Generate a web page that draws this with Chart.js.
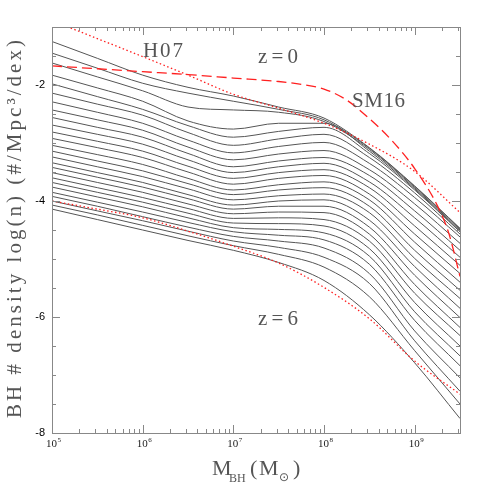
<!DOCTYPE html>
<html>
<head>
<meta charset="utf-8">
<script src="https://cdn.jsdelivr.net/npm/chart.js@4.4.1/dist/chart.umd.min.js"></script>
<style>
  html, body { margin: 0; padding: 0; background: #fff; }
  #wrap { width: 485px; height: 485px; }
</style>
</head>
<body>
<div id="wrap"><canvas id="bhmf" width="485" height="485"></canvas></div>
<script>
const logMass = [5, 5.5, 6, 6.5, 7, 7.5, 8, 8.5, 9, 9.5];

// model mass functions log10(n), z=0 (top) down to z=6 (bottom)
const modelCurves = [
  [-1.25, -1.54, -1.83, -2.04, -2.19, -2.38, -2.57, -3.08, -3.74, -4.47],
  [-1.45, -1.71, -1.97, -2.14, -2.28, -2.42, -2.60, -3.09, -3.75, -4.48],
  [-1.62, -1.86, -2.10, -2.38, -2.43, -2.47, -2.63, -3.11, -3.77, -4.50],
  [-1.83, -2.05, -2.28, -2.62, -2.76, -2.66, -2.66, -3.14, -3.79, -4.52],
  [-1.98, -2.20, -2.42, -2.70, -2.90, -2.80, -2.73, -3.18, -3.81, -4.53],
  [-2.14, -2.33, -2.52, -2.82, -3.04, -2.93, -2.85, -3.25, -3.86, -4.57],
  [-2.29, -2.47, -2.66, -2.95, -3.17, -3.06, -2.99, -3.35, -3.94, -4.62],
  [-2.43, -2.60, -2.78, -3.07, -3.29, -3.19, -3.13, -3.46, -4.05, -4.73],
  [-2.56, -2.73, -2.90, -3.18, -3.41, -3.31, -3.25, -3.56, -4.17, -4.85],
  [-2.69, -2.85, -3.02, -3.29, -3.51, -3.41, -3.35, -3.67, -4.29, -4.97],
  [-2.81, -2.97, -3.14, -3.40, -3.61, -3.51, -3.46, -3.77, -4.43, -5.11],
  [-2.92, -3.08, -3.25, -3.50, -3.71, -3.61, -3.56, -3.88, -4.57, -5.25],
  [-3.04, -3.20, -3.37, -3.61, -3.81, -3.72, -3.67, -3.98, -4.71, -5.40],
  [-3.14, -3.31, -3.48, -3.70, -3.89, -3.81, -3.77, -4.09, -4.85, -5.54],
  [-3.24, -3.41, -3.58, -3.79, -3.98, -3.91, -3.88, -4.20, -4.99, -5.68],
  [-3.34, -3.51, -3.68, -3.89, -4.07, -4.00, -3.98, -4.33, -5.13, -5.85],
  [-3.42, -3.59, -3.76, -3.96, -4.14, -4.09, -4.09, -4.45, -5.28, -6.01],
  [-3.51, -3.68, -3.85, -4.05, -4.22, -4.19, -4.20, -4.57, -5.44, -6.18],
  [-3.60, -3.77, -3.94, -4.13, -4.30, -4.29, -4.32, -4.69, -5.59, -6.32],
  [-3.68, -3.85, -4.02, -4.21, -4.38, -4.39, -4.43, -4.82, -5.75, -6.50],
  [-3.76, -3.93, -4.10, -4.29, -4.46, -4.49, -4.55, -4.95, -5.91, -6.67],
  [-3.85, -4.02, -4.19, -4.37, -4.53, -4.59, -4.67, -5.09, -6.06, -6.84],
  [-3.92, -4.09, -4.27, -4.45, -4.61, -4.69, -4.81, -5.25, -6.24, -7.05],
  [-4.00, -4.17, -4.34, -4.52, -4.69, -4.80, -4.97, -5.42, -6.41, -7.28],
  [-4.07, -4.24, -4.42, -4.60, -4.77, -4.92, -5.14, -5.65, -6.58, -7.50],
  [-4.14, -4.32, -4.50, -4.68, -4.85, -5.06, -5.37, -5.96, -6.79, -7.75]
];

// Hopkins+07 at z=0 and z=6 (red dotted), same mass grid
const h07z0 = [-0.89, -1.20, -1.51, -1.83, -2.16, -2.40, -2.66, -3.02, -3.49, -4.20];
const h07z6 = [-4.00, -4.14, -4.29, -4.52, -4.78, -5.07, -5.49, -6.03, -6.76, -7.33];

// SM16 (red dashed)
const sm16LogMass = [5, 5.5, 6, 6.5, 7, 7.5, 7.75, 8, 8.25, 8.5, 8.75, 9, 9.25, 9.375, 9.5];
const sm16 = [-1.67, -1.72, -1.77, -1.82, -1.88, -1.94, -1.99, -2.07, -2.26, -2.58, -2.96, -3.44, -4.08, -4.55, -5.30];

const yTickValues = [-8, -6, -4, -2];
const xDecades = [5, 6, 7, 8, 9];

const toPoints = (lm, ys) => lm.map((m, i) => ({ x: Math.pow(10, m), y: ys[i] }));

const datasets = [
  { data: toPoints(sm16LogMass, sm16), borderColor: '#ff2020', borderWidth: 1.3, borderDash: [10, 5] },
  { data: toPoints(logMass, h07z0), borderColor: '#ff2020', borderWidth: 1.3, borderDash: [1.5, 2.5] },
  { data: toPoints(logMass, h07z6), borderColor: '#ff2020', borderWidth: 1.3, borderDash: [1.5, 2.5] }
];
modelCurves.forEach(c => {
  datasets.push({ data: toPoints(logMass, c), borderColor: '#555', borderWidth: 1 });
});

// draw text with extra letter spacing so it spans a given width
function spacedText(ctx, text, x, y, width) {
  ctx.letterSpacing = '0px';
  const w = ctx.measureText(text).width;
  const gap = Math.max(0, (width - w) / Math.max(1, text.length - 1));
  ctx.letterSpacing = gap + 'px';
  ctx.fillText(text, x, y);
  ctx.letterSpacing = '0px';
}

const frame = {
  id: 'frame',
  afterDatasetsDraw(chart) {
    const { ctx, chartArea: a, scales: { x, y } } = chart;
    ctx.save();
    ctx.strokeStyle = '#888';
    ctx.lineWidth = 1;
    ctx.strokeRect(Math.round(a.left) + 0.5, Math.round(a.top) + 0.5,
      Math.round(a.right - a.left), Math.round(a.bottom - a.top));

    ctx.beginPath();
    for (const d of xDecades) {
      for (let k = 1; k <= 9; k++) {
        const m = k * Math.pow(10, d);
        if (m > x.max) break;
        const px = Math.round(x.getPixelForValue(m)) + 0.5;
        const len = k === 1 ? 8 : 4;
        ctx.moveTo(px, a.bottom); ctx.lineTo(px, a.bottom - len);
        ctx.moveTo(px, a.top); ctx.lineTo(px, a.top + len);
      }
    }
    for (let v = -8; v <= -1; v += 0.5) {
      const py = Math.round(y.getPixelForValue(v)) + 0.5;
      const len = v % 2 === 0 ? 8 : 4;
      ctx.moveTo(a.left, py); ctx.lineTo(a.left + len, py);
      ctx.moveTo(a.right, py); ctx.lineTo(a.right - len, py);
    }
    ctx.stroke();

    // x tick labels 10^n
    ctx.fillStyle = '#222';
    ctx.textBaseline = 'alphabetic';
    for (const d of xDecades) {
      const px = x.getPixelForValue(Math.pow(10, d));
      ctx.font = '11px "Liberation Serif"';
      ctx.textAlign = 'left';
      const w10 = ctx.measureText('10').width;
      ctx.fillText('10', px - 6, a.bottom + 14);
      ctx.font = '7px "Liberation Serif"';
      ctx.fillText(String(d), px - 6 + w10 + 0.5, a.bottom + 9);
    }

    // axis titles
    ctx.fillStyle = '#555';
    ctx.textAlign = 'left';
    ctx.save();
    ctx.translate(21, 418);
    ctx.rotate(-Math.PI / 2);
    ctx.font = '21px "Liberation Serif"';
    spacedText(ctx, 'BH # density log(n) (#/Mpc³/dex)', 0, 0, 378);
    ctx.restore();

    const x0 = 212, base = 475;
    ctx.font = '22px "Liberation Serif"';
    ctx.fillText('M', x0, base);
    ctx.fillText('(', x0 + 38, base);
    ctx.fillText('M', x0 + 47, base);
    ctx.fillText(')', x0 + 81, base);
    ctx.font = '12px "Liberation Serif"';
    ctx.fillText('BH', x0 + 17, base + 7);
    ctx.font = '12px "DejaVu Sans"';
    ctx.fillText('⊙', x0 + 67, base + 6);

    // curve labels
    ctx.font = '21px "Liberation Serif"';
    spacedText(ctx, 'H07', 143, 57, 40);
    spacedText(ctx, 'z=0', 258, 63, 40);
    spacedText(ctx, 'SM16', 352, 107, 53);
    spacedText(ctx, 'z=6', 258, 325, 40);
    ctx.restore();
  }
};

new Chart(document.getElementById('bhmf'), {
  type: 'line',
  data: { datasets },
  options: {
    responsive: false,
    animation: false,
    devicePixelRatio: 1,
    layout: { padding: { top: 27, right: 25, left: 0, bottom: 0 } },
    plugins: { legend: { display: false }, tooltip: { enabled: false } },
    elements: {
      point: { radius: 0 },
      line: { cubicInterpolationMode: 'monotone', fill: false }
    },
    scales: {
      x: {
        type: 'logarithmic',
        min: 1e5,
        max: Math.pow(10, 9.5),
        grid: { display: false, drawTicks: false },
        border: { display: false },
        ticks: { display: false },
        afterFit: s => { s.height = 52; }
      },
      y: {
        type: 'linear',
        min: -8,
        max: -1,
        grid: { display: false, drawTicks: false },
        border: { display: false },
        afterBuildTicks: s => { s.ticks = yTickValues.map(v => ({ value: v })); },
        ticks: {
          padding: 7,
          color: '#000',
          font: { family: 'Liberation Sans', size: 11 },
          callback: v => String(v)
        },
        afterFit: s => { s.width = 52; }
      }
    }
  },
  plugins: [frame]
});
</script>
</body>
</html>
